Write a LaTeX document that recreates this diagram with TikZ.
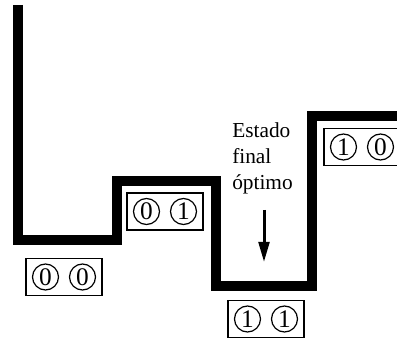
\documentclass[tikz,border=0pt]{standalone}
\usepackage{fontspec}
\setmainfont{Liberation Serif}
\usetikzlibrary{arrows.meta}
\tikzset{
  wall/.style={line width=7.5pt, line join=miter},
  pairbox/.style={rectangle, draw=black, line width=0.8pt, minimum width=57pt, minimum height=27.75pt, inner sep=0pt},
  bit/.style={circle, draw=black, line width=0.9pt, minimum size=19.5pt, inner sep=0pt, font=\fontsize{19}{19}\selectfont},
}
\begin{document}
\begin{tikzpicture}[x=0.75pt, y=-0.75pt]
      \clip (0,0) rectangle (397,338);
      % energy profile
      \draw[wall] (18,5) -- (18,240) -- (117,240) -- (117,181) -- (216,181)
        -- (216,286) -- (312,286) -- (312,116) -- (405,116);
      % states
      \node[pairbox] at (64,277) (s00) {};
      \node[bit] at (45.5,277) (s00a) {0};
      \node[bit] at (82.5,277) (s00b) {0};
      \node[pairbox] at (165,211.5) (s01) {};
      \node[bit] at (146.5,211.5) (s01a) {0};
      \node[bit] at (183.5,211.5) (s01b) {1};
      \node[pairbox] at (266,319) (s11) {};
      \node[bit] at (247.5,319) (s11a) {1};
      \node[bit] at (284.5,319) (s11b) {1};
      \node[pairbox] at (362,147) (s10) {};
      \node[bit] at (343.5,147) (s10a) {1};
      \node[bit] at (380.5,147) (s10b) {0};
      % label
      \node[anchor=base west, align=left, inner sep=0pt, font=\fontsize{16}{19.5}\selectfont] at (232,190) (lbl) {Estado\\final\\óptimo};
      \coordinate (atop) at (264,210);
      \coordinate (atip) at (264,262);
      \draw[line width=2.25pt, -{Triangle[length=15pt, width=8pt]}] (atop) -- (atip);
  \end{tikzpicture}
\end{document}
